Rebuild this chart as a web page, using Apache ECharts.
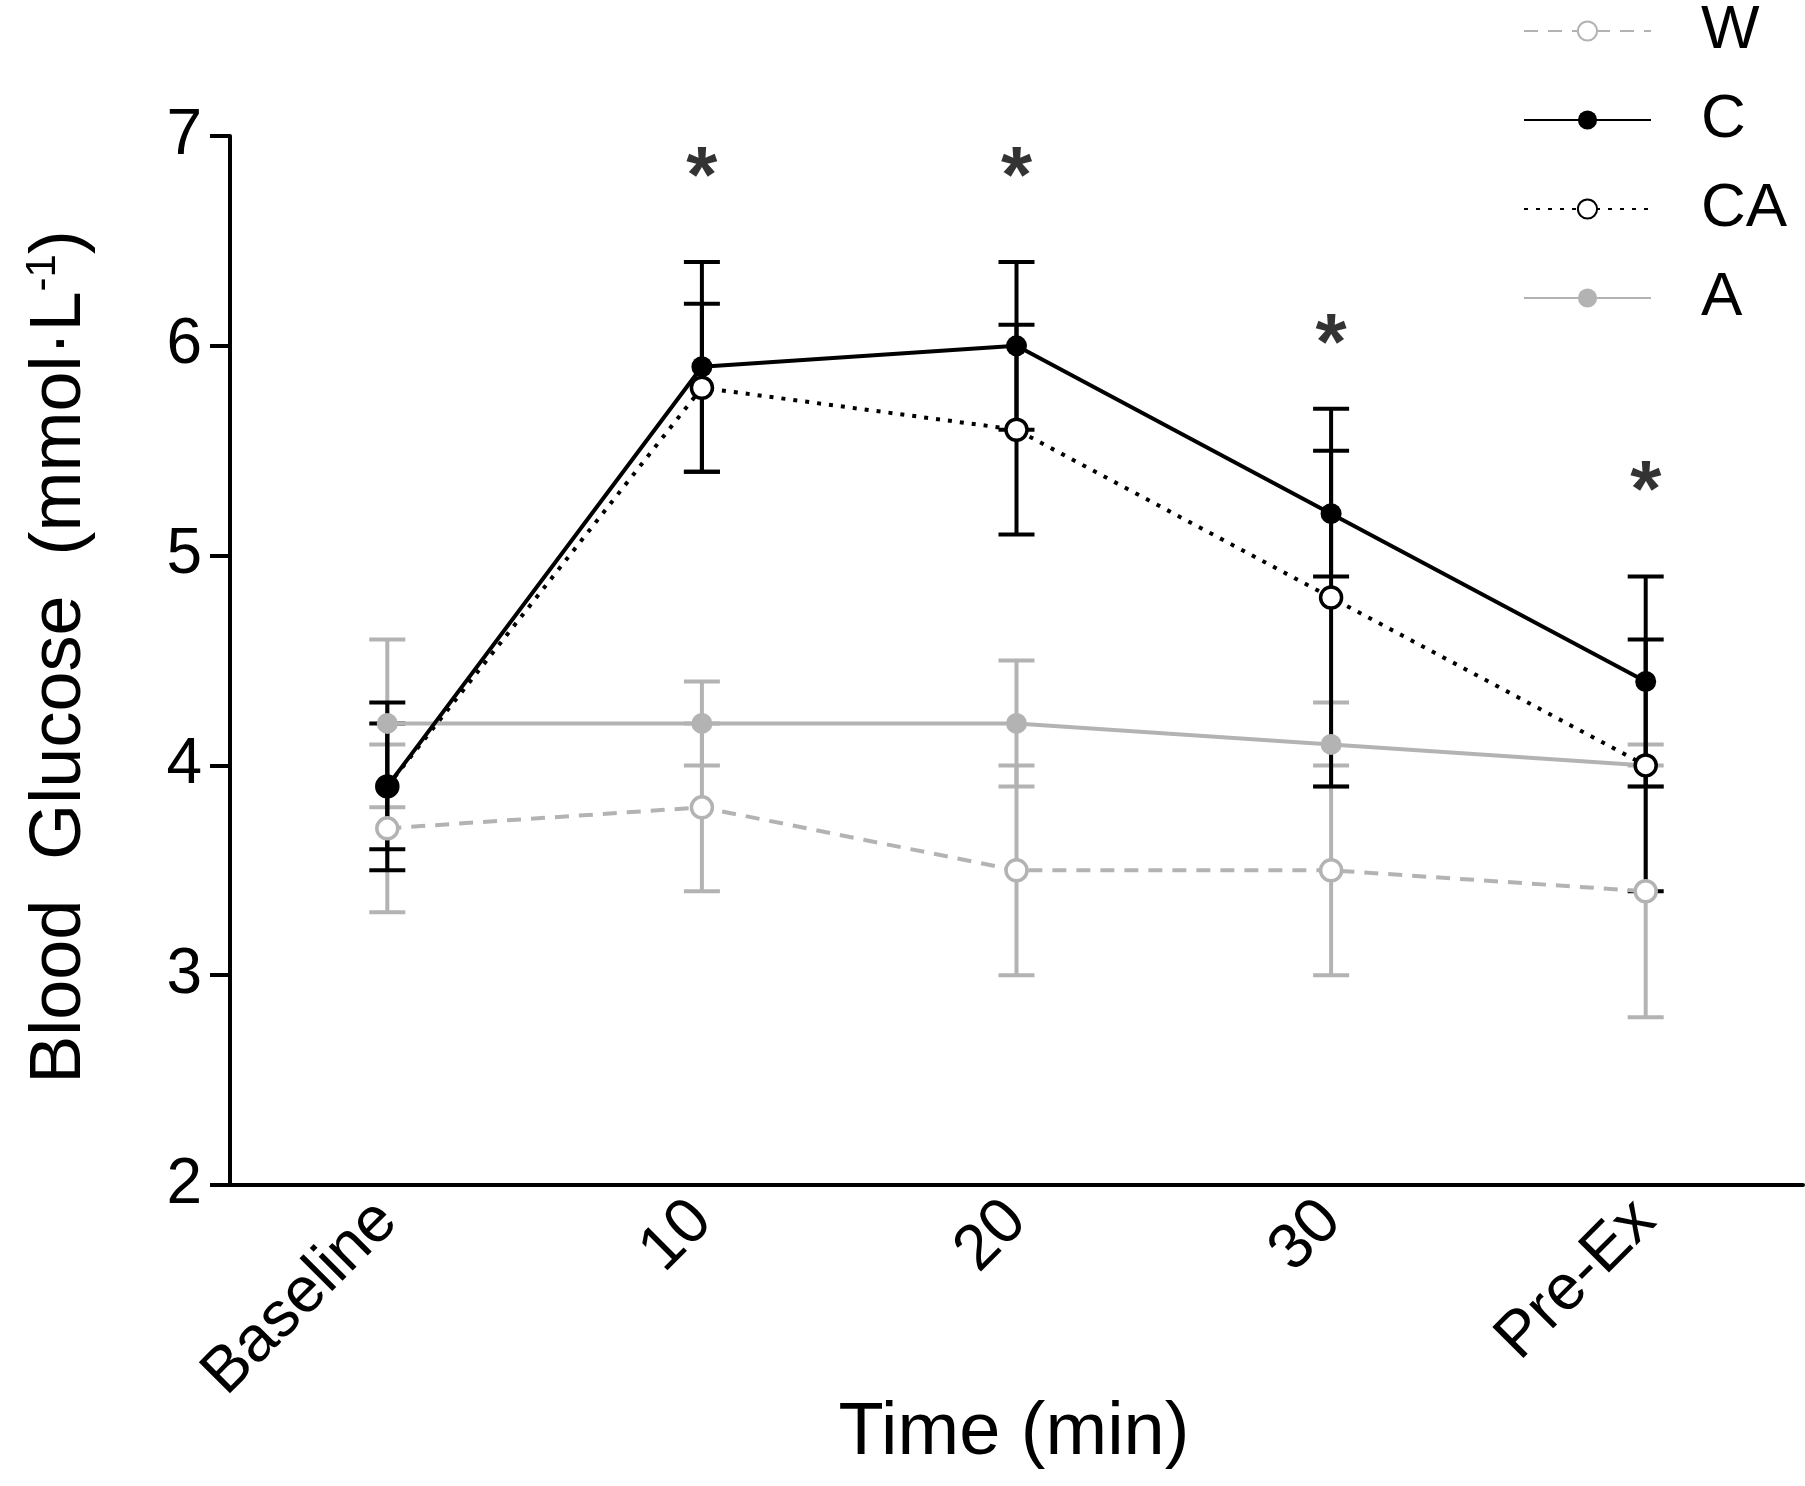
<!DOCTYPE html>
<html><head><meta charset="utf-8">
<script src="https://cdn.jsdelivr.net/npm/echarts@6/dist/echarts.min.js"></script>
<style>html,body{margin:0;padding:0;background:#fff}#main{width:1805px;height:1486px}</style>
</head><body><div id="main"></div>
<script>
var categories = ['Baseline', '10', '20', '30', 'Pre-Ex'];
var wMean = [3.7, 3.8, 3.5, 3.5, 3.4];
var wErr = [0.4, 0.4, 0.5, 0.5, 0.6];
var cMean = [3.9, 5.9, 6.0, 5.2, 4.4];
var cErr = [0.4, 0.5, 0.4, 0.3, 0.5];
var caMean = [3.9, 5.8, 5.6, 4.8, 4.0];
var caErr = [0.3, 0.4, 0.5, 0.9, 0.6];
var aMean = [4.2, 4.2, 4.2, 4.1, 4.0];
var aErr = [0.4, 0.2, 0.3, 0.2, 0.1];
var starY = [null, 6.85, 6.85, 6.05, 5.35];

var GRAY = '#b3b3b3';
var FONT = 'Liberation Sans';
var chart = echarts.init(document.getElementById('main'));

function errSeries(mean, err, color, z) {
    var data = mean.map(function (m, i) { return [i, m - err[i], m + err[i]]; });
    return {
        type: 'custom', z: z, silent: true,
        renderItem: function (params, api) {
            var lo = api.coord([api.value(0), api.value(1)]);
            var hi = api.coord([api.value(0), api.value(2)]);
            var hw = 18;
            var st = {stroke: color, lineWidth: 4};
            return {type: 'group', children: [
                {type: 'line', shape: {x1: lo[0], y1: lo[1], x2: hi[0], y2: hi[1]}, style: st},
                {type: 'line', shape: {x1: lo[0] - hw, y1: lo[1], x2: lo[0] + hw, y2: lo[1]}, style: st},
                {type: 'line', shape: {x1: hi[0] - hw, y1: hi[1], x2: hi[0] + hw, y2: hi[1]}, style: st}
            ]};
        },
        data: data
    };
}

function lineSeries(name, mean, color, lineType, fill, z) {
    return {
        name: name, type: 'line', data: mean, z: z,
        symbol: 'circle', symbolSize: 21,
        lineStyle: {color: color, width: 4, type: lineType},
        itemStyle: {color: fill, borderColor: color, borderWidth: fill === '#fff' ? 3.5 : 0}
    };
}

var option = {
    animation: false,
    grid: {left: 230, right: 2, top: 136, bottom: 301},
    legend: {
        orient: 'vertical', left: 1518, top: -6,
        itemWidth: 127, itemHeight: 24, itemGap: 25,
        data: ['W', 'C', 'CA', 'A'],
        textStyle: {fontFamily: FONT, fontSize: 62, lineHeight: 64, color: '#000', padding: [0, 0, 0, 45]}
    },
    xAxis: {
        type: 'category', data: categories, boundaryGap: true,
        axisLine: {lineStyle: {color: '#000', width: 4}},
        axisTick: {alignWithLabel: true, length: 20, lineStyle: {color: '#000', width: 4}},
        axisLabel: {rotate: 45, margin: 26, color: '#000', fontFamily: FONT, fontSize: 64}
    },
    yAxis: {
        type: 'value', min: 2, max: 7, interval: 1,
        splitLine: {show: false},
        axisLine: {show: true, lineStyle: {color: '#000', width: 4}},
        axisTick: {show: true, length: 20, lineStyle: {color: '#000', width: 4}},
        axisLabel: {margin: 28, color: '#000', fontFamily: FONT, fontSize: 64}
    },
    graphic: [
        {type: 'text', x: 1014, y: 1434, style: {text: 'Time (min)', align: 'center', verticalAlign: 'middle', fontFamily: FONT, fontSize: 74, fill: '#000'}},
        {type: 'text', x: 60, y: 657, rotation: Math.PI / 2, style: {
            text: '{n|Blood  Glucose  (mmol·L}{s|-1}{n|)}', align: 'center', verticalAlign: 'middle',
            rich: {n: {fontFamily: FONT, fontSize: 72, fill: '#000'},
                   s: {fontFamily: FONT, fontSize: 42, fill: '#000', verticalAlign: 'top', padding: [0, 0, 34, 0]}}
        }}
    ],
    series: [
        errSeries(wMean, wErr, GRAY, 1),
        errSeries(aMean, aErr, GRAY, 1),
        errSeries(caMean, caErr, '#000', 2),
        errSeries(cMean, cErr, '#000', 2),
        lineSeries('W', wMean, GRAY, [14, 10], '#fff', 3),
        lineSeries('A', aMean, GRAY, 'solid', GRAY, 3),
        lineSeries('CA', caMean, '#000', [4, 8], '#fff', 4),
        lineSeries('C', cMean, '#000', 'solid', '#000', 5),
        {
            type: 'scatter', symbolSize: 0, data: starY, silent: true,
            label: {show: true, position: 'inside', formatter: '*', fontFamily: FONT, fontWeight: 'bold', fontSize: 80, color: '#000', offset: [0, 12]}
        }
    ]
};
chart.setOption(option);
</script>
</body></html>
